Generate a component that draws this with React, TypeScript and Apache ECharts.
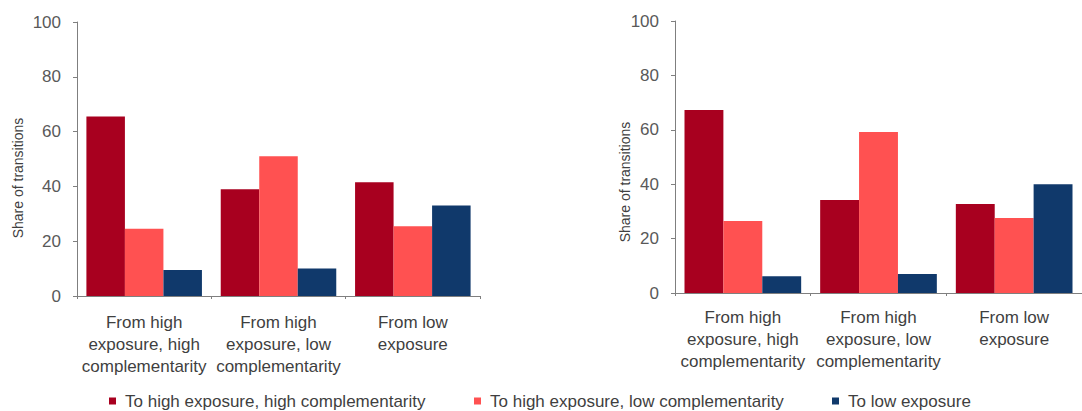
import React, { useEffect, useRef } from "react";
import * as echarts from "echarts";

const categories = [
  "From high\nexposure, high\ncomplementarity",
  "From high\nexposure, low\ncomplementarity",
  "From low\nexposure",
];
const seriesNames = [
  "To high exposure, high complementarity",
  "To high exposure, low complementarity",
  "To low exposure",
];
const leftHighHigh = [65.5, 39, 41.5];
const leftHighLow = [24.5, 51, 25.5];
const leftLow = [9.5, 10, 33];
const rightHighHigh = [67.3, 34.2, 32.7];
const rightHighLow = [26.5, 59.2, 27.6];
const rightLow = [6.2, 7, 40];
const yTicks = [0, 20, 40, 60, 80, 100];
const axisTitle = "Share of transitions";

const colors = ["#A8001F", "#FF5151", "#10396B"];
const FONT = "'Liberation Sans', Arial, sans-serif";

export default function App() {
  const ref = useRef<HTMLDivElement>(null);
  useEffect(() => {
    if (!ref.current) return;
    const chart = echarts.init(ref.current, null, { renderer: "svg" });
    const grids = [
      { left: 77, right: 602, top: 22, bottom: 115 },
      { left: 675, right: -10, top: 21, bottom: 118 },
    ];
    const xAxis = grids.map((_, i) => ({
      type: "category",
      gridIndex: i,
      data: categories,
      axisLine: { lineStyle: { color: "#7f7f7f", width: 1 } },
      axisTick: { show: true, length: 3, lineStyle: { color: "#7f7f7f" } },
      axisLabel: {
        interval: 0,
        margin: i === 0 ? 15 : 13,
        fontFamily: FONT,
        fontSize: 17,
        lineHeight: 22,
        color: "#3f3f3f",
      },
    }));
    const yAxis = grids.map((_, i) => ({
      type: "value",
      gridIndex: i,
      min: yTicks[0],
      max: yTicks[yTicks.length - 1],
      interval: 20,
      splitLine: { show: false },
      axisLine: { show: true, lineStyle: { color: "#7f7f7f", width: 1 } },
      axisTick: { show: true, length: 4, lineStyle: { color: "#7f7f7f" } },
      axisLabel: {
        margin: 16,
        fontFamily: FONT,
        fontSize: 17,
        color: "#595959",
      },
    }));
    const leftData = [leftHighHigh, leftHighLow, leftLow];
    const rightData = [rightHighHigh, rightHighLow, rightLow];
    const series: any[] = [];
    [leftData, rightData].forEach((set, gi) => {
      set.forEach((vals, si) => {
        series.push({
          type: "bar",
          name: seriesNames[si],
          xAxisIndex: gi,
          yAxisIndex: gi,
          data: vals,
          barGap: "0%",
          barCategoryGap: "14%",
          itemStyle: { color: colors[si] },
        });
      });
    });
    const legendLefts = [109, 474, 832];
    const legend = seriesNames.map((n, i) => ({
      data: [n],
      left: legendLefts[i],
      top: 391,
      padding: 0,
      icon: "rect",
      itemWidth: 7,
      itemHeight: 7,
      textStyle: {
        fontFamily: FONT,
        fontSize: 17,
        lineHeight: 20,
        color: "#3f3f3f",
        padding: [0, 0, 0, 4],
      },
    }));
    chart.setOption({
      animation: false,
      backgroundColor: "#ffffff",
      color: colors,
      grid: grids,
      xAxis,
      yAxis,
      series,
      legend,
      graphic: [
        {
          type: "text",
          x: 18,
          y: 178,
          rotation: Math.PI / 2,
          style: {
            text: axisTitle,
            fontFamily: FONT,
            fontSize: 14,
            fill: "#404040",
            textAlign: "center",
            textVerticalAlign: "middle",
          },
        },
        {
          type: "text",
          x: 625,
          y: 182,
          rotation: Math.PI / 2,
          style: {
            text: axisTitle,
            fontFamily: FONT,
            fontSize: 14,
            fill: "#404040",
            textAlign: "center",
            textVerticalAlign: "middle",
          },
        },
      ],
    });
    return () => chart.dispose();
  }, []);
  return (
    <div
      ref={ref}
      style={{ position: "absolute", left: 0, top: 0, width: 1082, height: 411 }}
    />
  );
}
